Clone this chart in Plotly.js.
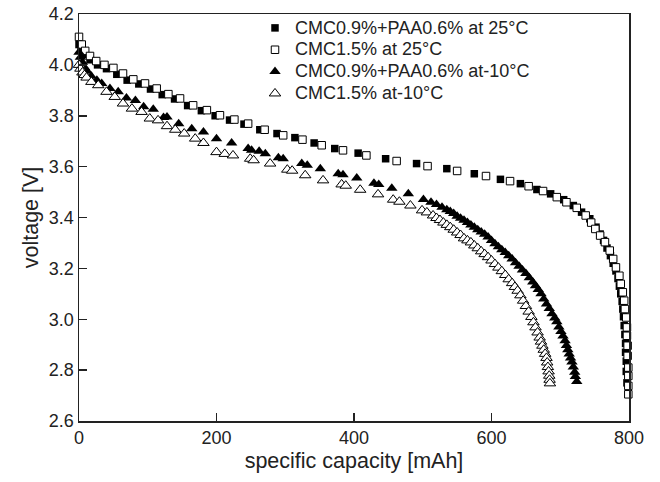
<!DOCTYPE html>
<html>
<head>
<meta charset="utf-8">
<script src="https://cdn.plot.ly/plotly-3.0.1.min.js"></script>
<style>html,body{margin:0;padding:0;background:#fff;}#chart{width:660px;height:482px;}</style>
</head>
<body>
<div id="chart"></div>
<script>
// Series names
const seriesNames = [
  "CMC0.9%+PAA0.6% at 25°C",
  "CMC1.5% at 25°C",
  "CMC0.9%+PAA0.6% at-10°C",
  "CMC1.5% at-10°C"
];

// CMC0.9%+PAA0.6% at 25°C (filled squares)
const capA = [0, 3, 8, 16, 27, 40, 55, 70, 87, 104, 121, 139, 158, 178, 198, 219, 240, 263, 288, 314, 342, 372, 406, 446, 491, 535, 575, 613, 642, 666, 686, 705, 719, 731, 743, 752, 758, 763, 768, 773, 777, 781, 784, 786, 788, 790, 791, 792, 793, 794, 795, 795, 796, 796, 797];
const voltA = [4.08, 4.06, 4.04, 4.02, 4.00, 3.985, 3.963, 3.94, 3.925, 3.905, 3.883, 3.866, 3.84, 3.82, 3.80, 3.783, 3.767, 3.745, 3.73, 3.714, 3.693, 3.671, 3.653, 3.631, 3.612, 3.592, 3.572, 3.55, 3.533, 3.51, 3.493, 3.47, 3.447, 3.421, 3.395, 3.362, 3.335, 3.31, 3.28, 3.25, 3.22, 3.19, 3.16, 3.13, 3.10, 3.07, 3.04, 3.01, 2.975, 2.94, 2.905, 2.87, 2.835, 2.795, 2.75];

// CMC1.5% at 25°C (open squares)
const capB = [0, 4, 9, 16, 25, 37, 50, 64, 79, 96, 113, 130, 147, 166, 186, 205, 226, 246, 270, 297, 325, 353, 384, 418, 462, 507, 550, 592, 627, 654, 675, 695, 709, 724, 737, 745, 751, 758, 765, 772, 777, 781, 786, 788, 791, 793, 794, 796, 797, 797, 798, 798, 799, 799, 799, 799];
const voltB = [4.11, 4.08, 4.055, 4.035, 4.015, 4.00, 3.988, 3.966, 3.943, 3.927, 3.907, 3.885, 3.868, 3.841, 3.822, 3.802, 3.785, 3.769, 3.745, 3.723, 3.706, 3.684, 3.664, 3.644, 3.622, 3.602, 3.583, 3.563, 3.543, 3.523, 3.504, 3.48, 3.46, 3.438, 3.408, 3.38, 3.355, 3.329, 3.303, 3.27, 3.237, 3.204, 3.171, 3.139, 3.106, 3.073, 3.04, 3.007, 2.968, 2.935, 2.896, 2.856, 2.81, 2.777, 2.738, 2.705];

// CMC0.9%+PAA0.6% at -10°C (filled triangles)
const capC = [0, 2, 5, 8, 12, 18, 26, 33, 45, 57, 69, 82, 94, 108, 123, 128, 145, 164, 181, 200, 222, 246, 251, 262, 271, 290, 297, 324, 332, 351, 377, 384, 404, 429, 436, 455, 479, 501, 512, 520, 528, 535, 540, 545, 550, 555, 560, 565, 570, 575, 580, 585, 590, 595, 600, 605, 610, 615, 620, 625, 630, 635, 640, 645, 650, 655, 660, 664, 668, 672, 676, 680, 684, 688, 692, 695, 698, 701, 704, 707, 709, 711, 713, 715, 717, 719, 721, 722, 724];
const voltC = [4.05, 4.03, 4.01, 3.99, 3.975, 3.955, 3.94, 3.927, 3.907, 3.894, 3.87, 3.86, 3.835, 3.826, 3.793, 3.795, 3.769, 3.749, 3.736, 3.71, 3.693, 3.671, 3.664, 3.66, 3.651, 3.635, 3.631, 3.612, 3.605, 3.592, 3.572, 3.568, 3.555, 3.535, 3.53, 3.515, 3.493, 3.471, 3.46, 3.451, 3.44, 3.43, 3.424, 3.416, 3.405, 3.397, 3.389, 3.380, 3.371, 3.362, 3.352, 3.343, 3.334, 3.323, 3.310, 3.297, 3.285, 3.273, 3.262, 3.250, 3.237, 3.222, 3.208, 3.194, 3.180, 3.163, 3.146, 3.132, 3.117, 3.100, 3.080, 3.060, 3.042, 3.022, 3.005, 2.990, 2.970, 2.952, 2.934, 2.915, 2.897, 2.880, 2.863, 2.848, 2.832, 2.812, 2.792, 2.775, 2.755];

// CMC1.5% at -10°C (open triangles)
const capD = [0, 2, 5, 8, 11, 18, 28, 40, 52, 64, 77, 91, 103, 115, 128, 140, 153, 169, 181, 200, 212, 224, 249, 254, 278, 303, 310, 329, 355, 382, 388, 409, 435, 457, 466, 482, 499, 506, 515, 520, 525, 530, 535, 540, 545, 550, 555, 560, 565, 570, 575, 580, 585, 590, 595, 600, 605, 610, 615, 620, 625, 630, 634, 638, 642, 646, 650, 654, 658, 661, 664, 667, 670, 672, 674, 676, 678, 680, 681, 682, 683, 684, 684.5, 685];
const voltD = [4.00, 3.985, 3.97, 3.96, 3.95, 3.933, 3.92, 3.894, 3.874, 3.848, 3.828, 3.815, 3.789, 3.782, 3.759, 3.745, 3.73, 3.71, 3.693, 3.657, 3.65, 3.644, 3.631, 3.625, 3.612, 3.588, 3.584, 3.566, 3.546, 3.530, 3.525, 3.509, 3.491, 3.47, 3.462, 3.447, 3.428, 3.42, 3.408, 3.398, 3.390, 3.380, 3.371, 3.362, 3.352, 3.341, 3.331, 3.318, 3.310, 3.302, 3.290, 3.279, 3.267, 3.256, 3.244, 3.231, 3.217, 3.203, 3.189, 3.174, 3.157, 3.142, 3.127, 3.112, 3.094, 3.073, 3.052, 3.030, 3.009, 2.988, 2.968, 2.948, 2.928, 2.912, 2.896, 2.880, 2.864, 2.848, 2.830, 2.812, 2.795, 2.778, 2.762, 2.748];

const xTicks = [0, 200, 400, 600, 800];
const yTicks = [2.6, 2.8, 3.0, 3.2, 3.4, 3.6, 3.8, 4.0, 4.2];

const FONT = "Liberation Sans, Arial, sans-serif";

function mk(x, y, name, symbol, filled, size) {
  return {
    x: x, y: y, name: '<span style="font-size:18px">' + name + '</span>',
    type: "scatter", mode: "markers", cliponaxis: false,
    marker: {
      symbol: symbol, size: size,
      color: filled ? "#000" : "#fff",
      line: {color: "#000", width: filled ? 0 : 1}
    },
    hoverinfo: "x+y"
  };
}

const data = [
  mk(capA, voltA, seriesNames[0], "square", true, 7.5),
  mk(capB, voltB, seriesNames[1], "square", false, 7.5),
  mk(capC, voltC, seriesNames[2], "triangle-up", true, 10),
  mk(capD, voltD, seriesNames[3], "triangle-up", false, 10)
];

const axisCommon = {
  showgrid: false, zeroline: false,
  showline: true, mirror: true, linecolor: "#222", linewidth: 1.5,
  ticks: "inside", ticklen: 8, tickwidth: 1.5, tickcolor: "#222",
  tickfont: {family: FONT, size: 18, color: "#222"}
};

const layout = {
  width: 660, height: 482,
  margin: {l: 79, r: 31, t: 14, b: 61},
  paper_bgcolor: "#fff", plot_bgcolor: "#fff",
  showlegend: true,
  legend: {
    x: 0.32, y: 1.005, xanchor: "left", yanchor: "top",
    bgcolor: "rgba(0,0,0,0)", borderwidth: 0,
    font: {family: FONT, size: 14.5, color: "#222"},
    tracegroupgap: 0, itemwidth: 30
  },
  xaxis: Object.assign({}, axisCommon, {
    range: [0, 800], tickvals: xTicks, ticktext: xTicks.map(String),
    title: {text: "specific capacity [mAh]", font: {family: FONT, size: 21.5, color: "#222"}, standoff: 6}
  }),
  yaxis: Object.assign({}, axisCommon, {
    range: [2.6, 4.2], tickvals: yTicks, ticktext: yTicks.map(v => v.toFixed(1)),
    title: {text: "voltage [V]", font: {family: FONT, size: 21.5, color: "#222"}, standoff: 4}
  })
};

Plotly.newPlot("chart", data, layout, {displayModeBar: false, staticPlot: true});
</script>
</body>
</html>
